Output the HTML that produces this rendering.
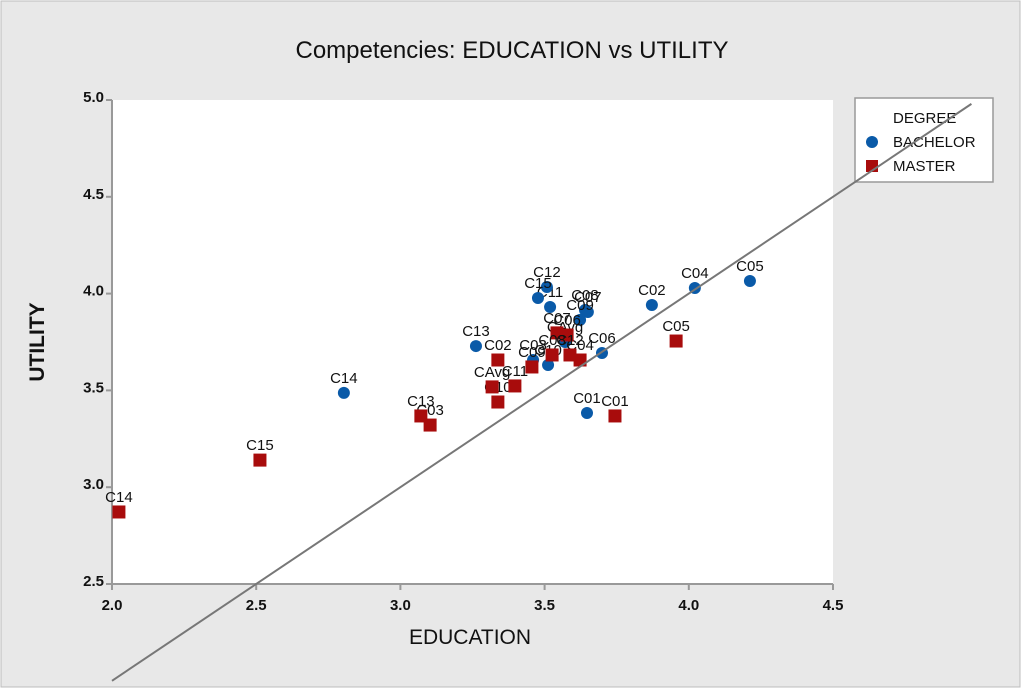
<!DOCTYPE html>
<html><head><meta charset="utf-8"><style>
body{margin:0;background:#fff;}
svg{display:block;font-family:"Liberation Sans",sans-serif;}
</style></head><body>
<svg id="chart" width="1024" height="689" viewBox="0 0 1024 689">
<rect x="0" y="0" width="1024" height="689" fill="#fff"/>
<rect x="1" y="1" width="1019" height="686" fill="#e8e8e8" stroke="#bdbdbd"/>
<text x="512" y="58" text-anchor="middle" font-size="24" fill="#111">Competencies: EDUCATION vs UTILITY</text>
<rect x="112" y="100" width="721" height="484" fill="#fff"/>
<g id="axes"></g>
<g id="marks"></g>
<g>
<rect x="855" y="98" width="138" height="84" fill="#fff" stroke="#999" stroke-width="1.5"/>
<text x="893" y="123" font-size="15" fill="#111">DEGREE</text>
<circle cx="872" cy="142" r="6" fill="#0a5aa8"/>
<text x="893" y="147" font-size="15" fill="#111">BACHELOR</text>
<rect x="866" y="160" width="12" height="12" fill="#a80c0c"/>
<text x="893" y="171" font-size="15" fill="#111">MASTER</text>
</g>
<line id="refline" stroke="#777" stroke-width="2"/>
<text x="470" y="644" text-anchor="middle" font-size="21" fill="#111">EDUCATION</text>
<text transform="translate(44,342) rotate(-90)" text-anchor="middle" font-size="21" font-weight="bold" fill="#111">UTILITY</text>
</svg>
<script>
const labels = ["C01","C02","C03","C04","C05","C06","C07","C08","C09","C10","C11","C12","C13","C14","C15","CAvg"];
const bachelorX = [3.647,3.872,3.460,4.021,4.212,3.699,3.650,3.640,3.623,3.512,3.519,3.508,3.262,2.804,3.477,3.571];
const bachelorY = [3.383,3.941,3.657,4.029,4.065,3.693,3.905,3.915,3.864,3.631,3.931,4.034,3.729,3.487,3.977,3.750];
const masterX = [3.744,3.338,3.103,3.623,3.956,3.578,3.543,3.526,3.456,3.338,3.397,3.588,3.071,2.024,2.513,3.318];
const masterY = [3.368,3.657,3.321,3.657,3.755,3.786,3.797,3.683,3.621,3.440,3.523,3.683,3.368,2.872,3.140,3.518];
const xTicks = [2.0,2.5,3.0,3.5,4.0,4.5];
const yTicks = [2.5,3.0,3.5,4.0,4.5,5.0];
const tickLabels = ["2.0","2.5","3.0","3.5","4.0","4.5","5.0"];

const NS="http://www.w3.org/2000/svg";
const X0=112,X1=833,Y0=584,Y1=100;
const xs=v=>X0+(v-2)/2.5*(X1-X0);
const ys=v=>Y0-(v-2.5)/2.5*(Y0-Y1);
function mk(t,a,p){const e=document.createElementNS(NS,t);for(const k in a)e.setAttribute(k,a[k]);p.appendChild(e);return e;}
const axes=document.getElementById('axes');
const xAxis=mk('line',{x1:X0,y1:Y0,x2:X1,y2:Y0,stroke:'#999','stroke-width':2},axes);


const yAxis=mk('line',{x1:X0,y1:Y0,x2:X0,y2:Y1,stroke:'#999','stroke-width':2},axes);


xTicks.forEach((v,i)=>{
  mk('line',{x1:xs(v),y1:Y0,x2:xs(v),y2:Y0+6,stroke:'#999','stroke-width':2},axes);
  const t=mk('text',{x:xs(v),y:Y0+26,'text-anchor':'middle','font-size':15,'font-weight':'bold',fill:'#111'},axes);
  t.textContent=tickLabels[i];
  
  
});
yTicks.forEach((v,i)=>{
  mk('line',{x1:X0-6,y1:ys(v),x2:X0,y2:ys(v),stroke:'#999','stroke-width':2},axes);
  const t=mk('text',{x:X0-8,y:ys(v)+2,'text-anchor':'end','font-size':15,'font-weight':'bold',fill:'#111'},axes);
  t.textContent=tickLabels[i+1];
  
  
});
const rl=document.getElementById('refline');
rl.setAttribute('x1',xs(2));rl.setAttribute('y1',ys(2));
rl.setAttribute('x2',xs(4.98));rl.setAttribute('y2',ys(4.98));
const marks=document.getElementById('marks');
labels.forEach((l,i)=>{
  const c=mk('circle',{cx:xs(bachelorX[i]),cy:ys(bachelorY[i]),r:6,fill:'#0a5aa8'},marks);
  
  
  const t=mk('text',{x:xs(bachelorX[i]),y:ys(bachelorY[i])-10,'text-anchor':'middle','font-size':15,fill:'#111'},marks);
  t.textContent=l;
  
  
});
labels.forEach((l,i)=>{
  const r=mk('rect',{x:xs(masterX[i])-6.5,y:ys(masterY[i])-6.5,width:13,height:13,fill:'#a80c0c'},marks);
  
  
  const t=mk('text',{x:xs(masterX[i]),y:ys(masterY[i])-10,'text-anchor':'middle','font-size':15,fill:'#111'},marks);
  t.textContent=l;
  
  
});
</script>
</body></html>
